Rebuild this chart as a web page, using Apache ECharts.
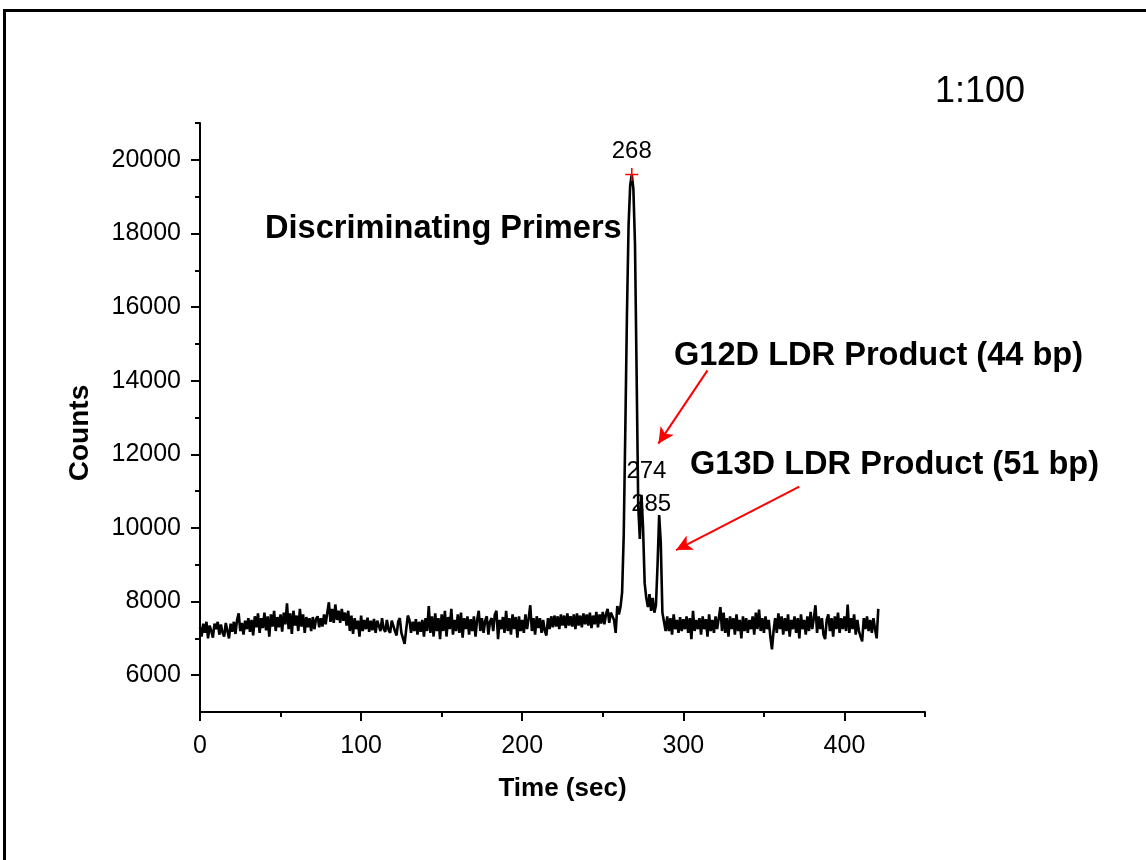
<!DOCTYPE html>
<html>
<head>
<meta charset="utf-8">
<script src="https://cdn.jsdelivr.net/npm/echarts@6/dist/echarts.min.js"></script>
<style>
  html, body { margin: 0; padding: 0; background: #fff; }
  #chart { width: 1146px; height: 860px; }
</style>
</head>
<body>
<div id="chart"></div>
<script>
// Detector trace, one reading per second starting at t = 0 s
const sampleStepSec = 1;
const counts = [
  7300, 7050, 7400, 7150, 7450, 7000, 7350, 7200, 7020, 7400,
  7250, 7450, 7100, 7380, 7150, 7050, 7420, 7200, 7000, 7400,
  7180, 7450, 7120, 7500, 7680, 7200, 7420, 7100, 7480, 7250,
  7550, 7180, 7500, 7080, 7600, 7300, 7680, 7150, 7550, 7280,
  7700, 7220, 7600, 7050, 7650, 7320, 7750, 7200, 7580, 7300,
  7650, 7180, 7700, 7380, 7950, 7250, 7680, 7120, 7750, 7350,
  7620, 7200, 7800, 7320, 7650, 7150, 7580, 7300, 7550, 7200,
  7580, 7250, 7520, 7600, 7300, 7550, 7320, 7650, 7380, 7700,
  7980, 7450, 7800, 7420, 7920, 7500, 7750, 7420, 7800, 7480,
  7700, 7350, 7750, 7200, 7620, 7120, 7550, 7250, 7480, 7050,
  7620, 7200, 7500, 7250, 7560, 7180, 7480, 7220, 7530, 7150,
  7480, 7520, 7200, 7550, 7250, 7180, 7500, 7230, 7150, 7480,
  7520, 7200, 7080, 7450, 7550, 7150, 7000, 6850, 7250, 7620,
  7500, 7150, 7450, 7200, 7520, 7100, 7450, 7180, 7500, 7050,
  7550, 7200, 7880, 7150, 7600, 7050, 7680, 7200, 7550, 6980,
  7650, 7200, 7750, 7050, 7580, 7250, 7800, 7100, 7500, 7200,
  7650, 7150, 7700, 7020, 7550, 7250, 7600, 7100, 7520, 7200,
  7600, 7050, 7500, 7750, 7200, 7550, 7150, 7480, 7600, 7100,
  7450, 7550, 7200, 7650, 7750, 6980, 7500, 7250, 7580, 7150,
  7750, 7200, 7550, 7100, 7650, 7250, 7580, 7020, 7600, 7200,
  7500, 7150, 7650, 7250, 7550, 7900, 7200, 7550, 7100, 7600,
  7280, 7550, 7150, 7500, 7200, 7080, 7550, 7250, 7600, 7300,
  7620, 7320, 7600, 7250, 7650, 7350, 7620, 7280, 7680, 7350,
  7600, 7320, 7650, 7250, 7680, 7350, 7620, 7300, 7680, 7380,
  7650, 7350, 7700, 7280, 7620, 7380, 7720, 7300, 7650, 7400,
  7720, 7380, 7650, 7800, 7420, 7700, 7750, 7500, 7150, 7880,
  7650, 7850, 8250, 9800, 12700, 15800, 18200, 19300, 19600, 19200,
  17700, 14200, 10600, 9700, 10900, 10000, 8500, 8100, 7850, 8200,
  7750, 8100, 7700, 7900, 9000, 10350, 9600, 7700, 7450, 7200,
  7600, 7200, 7550, 7100, 7650, 7250, 7500, 7150, 7580, 7200,
  7520, 7250, 7600, 7150, 7550, 6980, 7750, 7200, 7500, 7250,
  7550, 7100, 7600, 7250, 7520, 7050, 7650, 7200, 7500, 7150,
  7600, 7250, 7550, 7850, 7200, 7700, 7150, 7550, 7050, 7600,
  7250, 7550, 7100, 7650, 7200, 7500, 7000, 7600, 7200, 7550,
  7150, 7500, 7250, 7600, 7100, 7700, 7250, 7780, 7200, 7550,
  7150, 7600, 7250, 7500, 7050, 6700, 7200, 7550, 7150, 7680,
  7250, 7600, 7100, 7550, 7200, 7650, 7050, 7500, 7250, 7600,
  7150, 7550, 7000, 7650, 7250, 7500, 7100, 7600, 7200, 7720,
  7250, 7550, 7900, 7150, 7600, 7250, 7550, 7100, 6980, 7500,
  7650, 7200, 7550, 7050, 7600, 7250, 7700, 7150, 7550, 7250,
  7600, 7200, 7920, 7150, 7550, 7250, 7650, 7100, 7500, 7200,
  7050, 6920, 7550, 7250, 7600, 7200, 7500, 7150, 7550, 7250,
  7000, 7800
];

// Labelled peak retention times (s)
const peakTimes = [268, 274, 285];

// Axis ticks
const xMajorTicks = [0, 100, 200, 300, 400];
const xMinorTicks = [50, 150, 250, 350, 450];
const yMajorTicks = [6000, 8000, 10000, 12000, 14000, 16000, 18000, 20000];
const yMinorTicks = [7000, 9000, 11000, 13000, 15000, 17000, 19000, 21000];

// Annotation texts
const ratioLabel = '1:100';
const primerLabel = 'Discriminating Primers';
const g12dLabel = 'G12D LDR Product (44 bp)';
const g13dLabel = 'G13D LDR Product (51 bp)';
const xName = 'Time (sec)';
const yName = 'Counts';

const FONT = '"Liberation Sans", Arial, Helvetica, sans-serif';

const seriesData = counts.map((v, i) => [i * sampleStepSec, v]);
const countAt = t => counts[Math.round(t / sampleStepSec)];

const plusPath = 'path://M4.4,0h1.2v4.4h4.4v1.2h-4.4v4.4h-1.2v-4.4h-4.4v-1.2h4.4z';

const peakPoints = [
  { coord: [peakTimes[0], countAt(peakTimes[0])], symbol: plusPath, symbolSize: 13,
    itemStyle: { color: '#ff0000' },
    label: { offset: [0, 0] } },
  { coord: [peakTimes[1], countAt(peakTimes[1])], symbol: 'circle', symbolSize: 0,
    label: { offset: [5, -6] } },
  { coord: [peakTimes[2], countAt(peakTimes[2])], symbol: 'circle', symbolSize: 0,
    label: { offset: [-8, 6] } }
];

const chart = echarts.init(document.getElementById('chart'), null, { renderer: 'canvas' });

const axisLineStyle = { color: '#000', width: 2 };
const plainNumber = v => String(v);

chart.setOption({
  animation: false,
  backgroundColor: '#fff',
  grid: { left: 200, right: 221, top: 123, bottom: 148, containLabel: false },
  xAxis: [
    {
      type: 'value', min: 0, max: 450, interval: 50,
      axisLine: { show: true, onZero: false, lineStyle: axisLineStyle },
      axisTick: { show: true, inside: false, length: 9, customValues: xMajorTicks,
                  lineStyle: { color: '#000', width: 2 } },
      axisLabel: { show: true, customValues: xMajorTicks, margin: 22, color: '#000',
                   fontSize: 25, fontFamily: FONT, formatter: plainNumber },
      splitLine: { show: false },
      name: xName, nameLocation: 'middle', nameGap: 64,
      nameTextStyle: { color: '#000', fontSize: 26, fontWeight: 'bold', fontFamily: FONT }
    },
    {
      type: 'value', min: 0, max: 450, interval: 50, position: 'bottom', offset: 0,
      axisLine: { show: false },
      axisTick: { show: true, inside: false, length: 5, customValues: xMinorTicks,
                  lineStyle: { color: '#000', width: 2 } },
      axisLabel: { show: false },
      splitLine: { show: false }
    }
  ],
  yAxis: [
    {
      type: 'value', min: 5000, max: 21000, interval: 1000,
      axisLine: { show: true, onZero: false, lineStyle: axisLineStyle },
      axisTick: { show: true, inside: false, length: 9, customValues: yMajorTicks,
                  lineStyle: { color: '#000', width: 2 } },
      axisLabel: { show: true, customValues: yMajorTicks, margin: 19, color: '#000',
                   fontSize: 25, fontFamily: FONT, formatter: plainNumber },
      splitLine: { show: false }
    },
    {
      type: 'value', min: 5000, max: 21000, interval: 1000, position: 'left', offset: 0,
      axisLine: { show: false },
      axisTick: { show: true, inside: false, length: 5, customValues: yMinorTicks,
                  lineStyle: { color: '#000', width: 2 } },
      axisLabel: { show: false },
      splitLine: { show: false }
    }
  ],
  series: [
    {
      type: 'line',
      xAxisIndex: 0, yAxisIndex: 0,
      data: seriesData,
      showSymbol: false,
      symbol: 'none',
      lineStyle: { color: '#000', width: 2.6 },
      z: 3,
      markPoint: {
        silent: true,
        animation: false,
        label: {
          show: true, position: 'top', color: '#000', fontSize: 24, fontFamily: FONT,
          formatter: p => String(p.data.coord[0])
        },
        data: peakPoints
      },
      markLine: {
        silent: true,
        animation: false,
        symbol: ['none', 'arrow'],
        symbolSize: [12, 16],
        label: { show: false },
        lineStyle: { color: '#ff0000', width: 2, type: 'solid' },
        data: [
          [ { coord: [315, 14280] }, { coord: [284.5, 12290] } ],
          [ { coord: [372, 11120] }, { coord: [295.5, 9400] } ]
        ]
      }
    }
  ],
  graphic: [
    // outer frame
    { type: 'line', silent: true, shape: { x1: 4.5, y1: 10.5, x2: 1146, y2: 10.5 },
      style: { stroke: '#000', lineWidth: 3 } },
    { type: 'line', silent: true, shape: { x1: 4.5, y1: 9, x2: 4.5, y2: 860 },
      style: { stroke: '#000', lineWidth: 3 } },
    { type: 'text', silent: true, x: 935, y: 92,
      style: { text: ratioLabel, fill: '#000', font: '36px ' + FONT, align: 'left', verticalAlign: 'middle' } },
    { type: 'text', silent: true, x: 265, y: 229,
      style: { text: primerLabel, fill: '#000', font: 'bold 32.6px ' + FONT, align: 'left', verticalAlign: 'middle' } },
    { type: 'text', silent: true, x: 674, y: 356,
      style: { text: g12dLabel, fill: '#000', font: 'bold 32.6px ' + FONT, align: 'left', verticalAlign: 'middle' } },
    { type: 'text', silent: true, x: 690, y: 465,
      style: { text: g13dLabel, fill: '#000', font: 'bold 32.6px ' + FONT, align: 'left', verticalAlign: 'middle' } },
    { type: 'text', silent: true, x: 80, y: 433, rotation: Math.PI / 2,
      style: { text: yName, fill: '#000', font: 'bold 28px ' + FONT, align: 'center', verticalAlign: 'middle' } }
  ]
});
</script>
</body>
</html>
